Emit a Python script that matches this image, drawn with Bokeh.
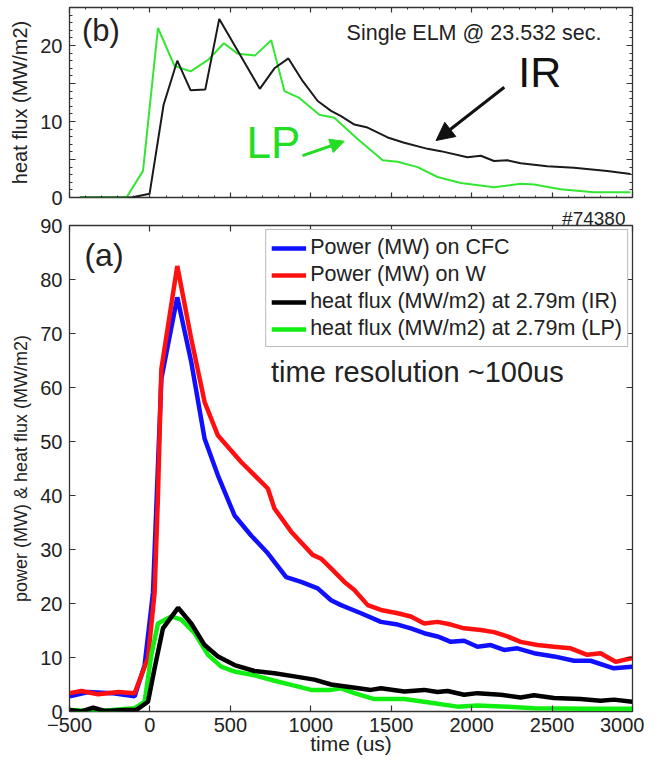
from bokeh.plotting import figure
from bokeh.models import (Range1d, LinearAxis, FixedTicker, Label, Arrow, NormalHead,
                          Legend, LegendItem, Title)
from bokeh.layouts import column
from bokeh.embed import file_html
from bokeh.resources import INLINE

FONT = "Liberation Sans"
TXT = "#222222"

# ---------------- data: panel (b) single ELM ----------------
b_ir_t = [-436, -115, -2, 85, 170, 253, 344, 431, 683, 774, 861, 950, 1043, 1126, 1188,
          1271, 1353, 1478, 1581, 1726, 1808, 1974, 2057, 2139, 2222, 2305, 2470, 2636, 2843, 2988]
b_ir_v = [0, 0, 0.5, 12.2, 18.0, 14.1, 14.2, 23.5, 14.3, 17.0, 18.3, 15.3, 12.7, 11.4, 10.7,
          9.6, 9.2, 7.9, 7.2, 6.4, 6.1, 5.3, 5.5, 4.8, 4.9, 4.5, 4.1, 3.9, 3.5, 3.1]
b_lp_t = [-436, -146, -43, 50, 153, 253, 361, 460, 547, 654, 754, 836, 929, 1053, 1146, 1291,
          1447, 1540, 1664, 1788, 1933, 2139, 2305, 2388, 2553, 2760, 2988]
b_lp_v = [0, 0, 3.5, 22.3, 17.3, 16.6, 18.1, 20.3, 18.9, 18.7, 20.7, 14.0, 13.1, 10.9, 10.5, 7.7,
          4.9, 4.7, 4.0, 2.7, 1.9, 1.35, 1.8, 1.7, 1.1, 0.7, 0.7]

# ---------------- data: panel (a) ----------------
w_t = [-498, -426, -322, -198, -95, -12, 29, 50, 71, 170, 257, 340, 423, 567, 733, 774, 878, 1012,
       1064, 1126, 1209, 1271, 1354, 1436, 1540, 1622, 1705, 1788, 1871, 1953, 2057, 2139, 2222,
       2305, 2409, 2512, 2615, 2719, 2801, 2895, 2998]
w_v = [3.4, 3.8, 3.2, 3.6, 3.4, 9.9, 22, 40, 63.4, 82.5, 69, 57.3, 51.1, 46.2, 41.3, 37.6, 33.3, 29,
       28.3, 26.5, 24, 22.5, 19.7, 18.8, 18.2, 17.6, 16.3, 16.6, 16.1, 15.4, 15.1, 14.7, 13.9,
       12.9, 12.3, 12.0, 11.7, 10.5, 10.8, 9.2, 9.9]
cfc_t = [-498, -384, -239, -95, -33, 19, 71, 170, 257, 340, 423, 526, 629, 733, 847, 940, 1043,
         1126, 1188, 1312, 1436, 1540, 1622, 1705, 1788, 1871, 1953, 2036, 2119, 2201, 2284, 2388,
         2512, 2636, 2739, 2884, 2998]
cfc_v = [2.8, 3.6, 3.4, 2.8, 8.6, 22, 61.6, 76.7, 64.7, 50.5, 43.7, 36.3, 32.6, 29.3, 24.9, 24,
         22.8, 20.6, 19.7, 18.2, 16.6, 16.1, 15.4, 14.5, 13.9, 12.9, 13.1, 12.0, 12.3, 11.4, 11.7,
         10.8, 10.2, 9.4, 9.4, 8.0, 8.3]
ir_t = [-498, -426, -353, -281, -157, -84, -12, 29, 81, 175, 257, 340, 423, 526, 650, 774, 898,
        1022, 1126, 1229, 1374, 1436, 1581, 1705, 1788, 1850, 1953, 2036, 2181, 2305, 2388, 2512,
        2677, 2801, 2884, 2998]
ir_v = [0.3, 0, 0.7, 0.1, 0.3, 0.3, 1.8, 8, 15.4, 19.2, 16.3, 12.3, 10.2, 8.6, 7.5, 7.1, 6.5,
        5.9, 5.0, 4.6, 4.0, 4.3, 3.7, 4.0, 3.6, 3.8, 3.1, 3.4, 3.1, 2.6, 3.0, 2.5,
        2.3, 2.0, 2.2, 1.8]
lp_t = [-498, -363, -239, -95, -33, 9, 50, 133, 195, 278, 361, 443, 526, 650, 774, 898, 1002,
        1126, 1188, 1271, 1395, 1581, 1726, 1912, 2036, 2222, 2388, 2719, 2998]
lp_v = [0.3, 0.1, 0.3, 0.6, 1.8, 10.5, 16.3, 17.6, 17.0, 14.5, 10.5, 8.3, 7.4, 6.7, 5.7, 4.8, 4.0,
        4.0, 4.3, 3.4, 2.3, 2.3, 1.7, 0.9, 1.1, 0.9, 0.6, 0.5, 0.5]

x_ticks = [-500, 0, 500, 1000, 1500, 2000, 2500, 3000]
x_minor = list(range(-500, 3001, 100))
a_y_ticks = [0, 10, 20, 30, 40, 50, 60, 70, 80, 90]
b_y_ticks = [0, 5, 10, 15, 20, 25]
b_y_minor = list(range(0, 26))
legend_labels = ["Power (MW) on CFC", "Power (MW) on W",
                 "heat flux (MW/m2) at 2.79m (IR)", "heat flux (MW/m2) at 2.79m (LP)"]


def base_axis_style(ax, ticks, tick_in=6, minor_in=0):
    ax.axis_line_color = None
    ax.major_tick_in = tick_in
    ax.major_tick_out = 0
    ax.major_tick_line_color = "#333333"
    ax.major_tick_line_width = 1.2
    ax.minor_tick_in = minor_in
    ax.minor_tick_out = 0
    ax.minor_tick_line_color = "#333333" if minor_in else None
    ax.major_label_text_font = FONT
    ax.major_label_text_color = TXT
    ax.axis_label_text_font = FONT
    ax.axis_label_text_color = TXT
    ax.axis_label_text_font_style = "normal"
    # tick marks only: blank labels
    ax.major_label_overrides = {t: "" for t in ticks}
    ax.major_label_text_font_size = "1px"
    ax.major_label_standoff = 0


def make_fig(y_max, fh, top_border, bottom_border):
    p = figure(frame_width=563, frame_height=fh, x_range=Range1d(-500, 3000),
               y_range=Range1d(0, y_max), output_backend="svg", toolbar_location=None,
               min_border_left=69, min_border_right=12, min_border_top=top_border,
               min_border_bottom=bottom_border, background_fill_color="white",
               border_fill_color="white")
    p.grid.visible = False
    p.outline_line_color = "#333333"
    p.outline_line_width = 1.3
    return p


# ---------------- panel (b) ----------------
p1 = make_fig(25, 190, 7, 11)
xt1 = FixedTicker(ticks=x_ticks, minor_ticks=x_minor)
yt1 = FixedTicker(ticks=b_y_ticks, minor_ticks=b_y_minor)
p1.xaxis.ticker = xt1
p1.yaxis.ticker = yt1
p1.add_layout(LinearAxis(ticker=xt1), "above")
p1.add_layout(LinearAxis(ticker=yt1), "right")
for ax in p1.xaxis:
    base_axis_style(ax, x_ticks, 5, 2)
for ax in p1.yaxis:
    base_axis_style(ax, b_y_ticks, 6, 3)
ly1 = p1.left[0]
ly1.major_label_text_font_size = "20px"
ly1.major_label_standoff = 7
ly1.major_label_overrides = {5: "", 15: "", 25: ""}
ly1.axis_label = "heat flux (MW/m2)"
ly1.axis_label_text_font_size = "20px"
ly1.axis_label_standoff = 6

p1.line(b_lp_t, b_lp_v, line_color="#33e633", line_width=2)
p1.line(b_ir_t, b_ir_v, line_color="#1a1a1a", line_width=2)

p1.add_layout(Label(x=-422, y=22, text="(b)", text_font=FONT, text_font_size="31px",
                    text_color=TXT, text_baseline="middle"))
p1.add_layout(Label(x=2807, y=21.6, text="Single ELM @ 23.532 sec.", text_font=FONT,
                    text_font_size="21.5px", text_color=TXT, text_align="right",
                    text_baseline="middle"))
p1.add_layout(Label(x=2290, y=13.4, text="IR", text_font=FONT, text_font_size="43px",
                    text_color="#111111"))
p1.add_layout(Arrow(x_start=2203, y_start=14.5, x_end=1779, y_end=7.5, line_width=3,
                    line_color="#111111",
                    end=NormalHead(size=18, fill_color="#111111", line_color="#111111")))
p1.add_layout(Label(x=600, y=3.95, text="LP", text_font=FONT, text_font_size="44px",
                    text_color="#22dd22"))
p1.add_layout(Arrow(x_start=949, y_start=5.5, x_end=1208, y_end=7.4, line_width=3,
                    line_color="#22dd22",
                    end=NormalHead(size=14, fill_color="#22dd22", line_color="#22dd22")))

# ---------------- panel (a) ----------------
p2 = make_fig(90, 486, 16, 47)
xt2 = FixedTicker(ticks=x_ticks)
yt2 = FixedTicker(ticks=a_y_ticks)
p2.xaxis.ticker = xt2
p2.yaxis.ticker = yt2
p2.add_layout(LinearAxis(ticker=xt2), "above")
p2.add_layout(LinearAxis(ticker=yt2), "right")
for ax in p2.xaxis:
    base_axis_style(ax, x_ticks, 6, 0)
for ax in p2.yaxis:
    base_axis_style(ax, a_y_ticks, 6, 0)
bx = p2.below[0]
bx.major_label_text_font_size = "20px"
bx.major_label_standoff = 6
bx.major_label_overrides = {-500: "\u2212500"}
bx.axis_label = "time (us)"
bx.axis_label_text_font_size = "21px"
bx.axis_label_standoff = -3
ly = p2.left[0]
ly.major_label_text_font_size = "20px"
ly.major_label_standoff = 7
ly.major_label_overrides = {}
ly.axis_label = "power (MW) & heat flux (MW/m2)"
ly.axis_label_text_font_size = "18px"
ly.axis_label_standoff = 6

p2.add_layout(Title(text="#74380", align="right", text_font=FONT, text_font_size="19px",
                    text_font_style="normal", text_color=TXT, offset=7, standoff=-6),
              "above")

r_cfc = p2.line(cfc_t, cfc_v, line_color="#1010ff", line_width=4.5)
r_w = p2.line(w_t, w_v, line_color="#ff1010", line_width=4.5)
r_lp = p2.line(lp_t, lp_v, line_color="#11ee11", line_width=4.5)
r_ir = p2.line(ir_t, ir_v, line_color="#000000", line_width=4.5)

legend = Legend(items=[LegendItem(label=legend_labels[0], renderers=[r_cfc]),
                       LegendItem(label=legend_labels[1], renderers=[r_w]),
                       LegendItem(label=legend_labels[2], renderers=[r_ir]),
                       LegendItem(label=legend_labels[3], renderers=[r_lp])],
                location="top_right", margin=4, padding=5, spacing=2,
                glyph_width=35, glyph_height=20, label_standoff=4, label_height=20,
                label_text_font=FONT, label_text_font_size="21.5px", label_text_color=TXT,
                border_line_color="#777777", border_line_width=1.5,
                background_fill_color="white", background_fill_alpha=1)
p2.add_layout(legend)

p2.add_layout(Label(x=-407, y=84.5, text="(a)", text_font=FONT, text_font_size="32px",
                    text_color=TXT, text_baseline="middle"))
p2.add_layout(Label(x=753, y=60, text="time resolution ~100us", text_font=FONT,
                    text_font_size="29px", text_color=TXT))

layout = column(p1, p2, spacing=0)
open("out.html", "w").write(file_html(layout, INLINE))
